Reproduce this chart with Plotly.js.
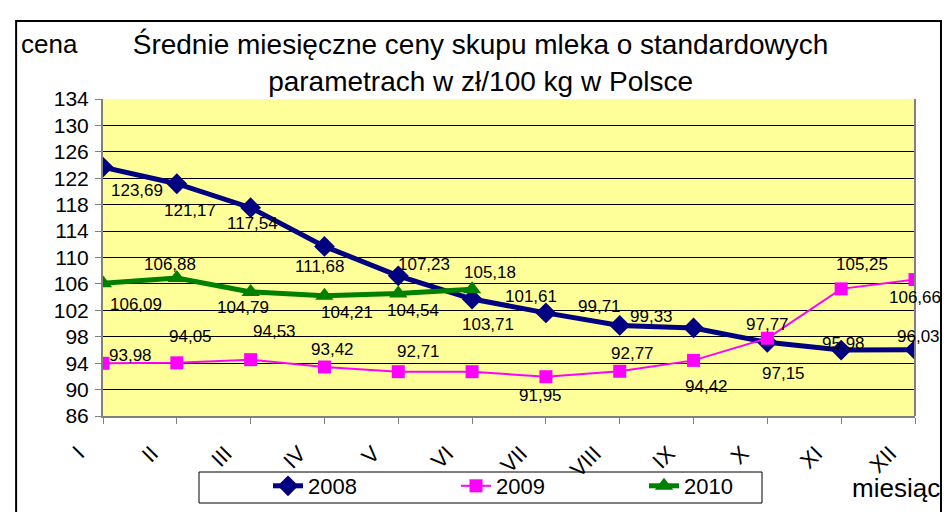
<!DOCTYPE html>
<html>
<head>
<meta charset="utf-8">
<script src="https://cdn.plot.ly/plotly-3.0.1.min.js"></script>
<style>html,body{margin:0;padding:0;background:#fff;}#chart{width:947px;height:512px;}</style>
</head>
<body>
<div id="chart"></div>
<script>
var months = ["I","II","III","IV","V","VI","VII","VIII","IX","X","XI","XII"];
var yTicks = [86,90,94,98,102,106,110,114,118,122,126,130,134];
var y2008 = [123.69,121.17,117.54,111.68,107.23,103.71,101.61,99.71,99.33,97.15,95.98,96.03];
var y2009 = [93.98,94.05,94.53,93.42,92.71,92.71,91.95,92.77,94.42,97.77,105.25,106.66];
var y2010 = [106.09,106.88,104.79,104.21,104.54,105.18];
var hide2009 = [5]; // this label is not shown in the original

// label placement (pixel offsets from each point: [dx, dy], dy downwards)
var off2008 = [[34,23],[13,27],[2,16],[-5,20],[26,-11],[16,25],[-15,-16],[-20,-19],[-42,-11],[16,31],[2,-7],[3,-13]];
var off2009 = [[27,-8],[14,-26],[24,-28],[8,-18],[20,-20],[0,0],[-5,19],[13,-18],[13,26],[0,-14],[21,-24],[0,18]];
var off2010 = [[33,21],[-7,-14],[-8,16],[23,17],[15,17],[18,-17]];

function fmt(v){ return v.toFixed(2).replace('.', ','); }
var FONT = "Liberation Sans, Arial, sans-serif";
var labelFont = {family:FONT, size:17, color:"#000"};

var traces = [
  {x: months, y: y2008, name:"2008", type:"scatter", mode:"lines+markers",
   line:{color:"#000080", width:5}, marker:{symbol:"diamond", size:16, color:"#000080"}},
  {x: months, y: y2009, name:"2009", type:"scatter", mode:"lines+markers",
   line:{color:"#FF00FF", width:2}, marker:{symbol:"square", size:13, color:"#FF00FF"}},
  {x: months.slice(0, y2010.length), y: y2010, name:"2010", type:"scatter", mode:"lines+markers",
   line:{color:"#008000", width:5}, marker:{symbol:"triangle-up", size:16, color:"#008000"}}
];

var annotations = [];
function addLabels(vals, offs, hide){
  vals.forEach(function(v, i){
    if (hide && hide.indexOf(i) >= 0) return;
    annotations.push({x: months[i], y: v, xref:"x", yref:"y", text: fmt(v), showarrow:false,
      xshift: offs[i][0], yshift: -offs[i][1], font: labelFont, xanchor:"center", yanchor:"middle"});
  });
}
addLabels(y2008, off2008);
addLabels(y2009, off2009, hide2009);
addLabels(y2010, off2010);

annotations.push({text:"cena", xref:"paper", yref:"paper", x:-0.1035, y:(416-44)/317, xanchor:"left", yanchor:"middle", showarrow:false, font:{size:26}});
annotations.push({text:"miesiąc", xref:"paper", yref:"paper", x:(850-103)/812, y:(416-488)/317, xanchor:"left", yanchor:"middle", showarrow:false, font:{size:26}});

var layout = {
  width:947, height:512,
  margin:{l:103, r:32, t:99, b:96, autoexpand:false},
  paper_bgcolor:"#ffffff", plot_bgcolor:"#FFFF99",
  font:{family:FONT, color:"#000"},
  showlegend:true,
  legend:{orientation:"h", x:(268-103)/812, xanchor:"left", y:(416-486)/317, yanchor:"middle",
          font:{size:22}, borderwidth:0, bgcolor:"rgba(0,0,0,0)",
          entrywidth:143, entrywidthmode:"pixels", traceorder:"normal"},
  title:{text:"Średnie miesięczne ceny skupu mleka o standardowych<br>parametrach w zł/100 kg w Polsce",
         x:0.465, xref:"paper", xanchor:"center", y:0.894, yref:"container", yanchor:"top",
         font:{size:28, color:"#000"}},
  xaxis:{type:"category", range:[0,11], tickangle:-45, ticks:"outside", ticklen:6, tickcolor:"#808080",
         showline:true, linecolor:"#808080", linewidth:2, showgrid:false, zeroline:false, automargin:false,
         tickfont:{size:22}, ticklabelstandoff:8, ticklabelshift:-25, fixedrange:true},
  yaxis:{range:[86,134], tickvals:yTicks, ticks:"outside", ticklen:6, tickcolor:"#808080",
         showline:true, linecolor:"#808080", linewidth:2, showgrid:true, gridcolor:"#000", gridwidth:1,
         zeroline:false, automargin:false, tickfont:{size:21}, ticklabelstandoff:2, fixedrange:true},
  annotations: annotations,
  shapes:[
    {type:"rect", xref:"paper", yref:"paper", x0:-0.107, x1:1.032, y0:-0.35, y1:1.246, line:{color:"#000", width:2}, layer:"below"},
    {type:"rect", xref:"paper", yref:"paper", x0:(199-103)/812, x1:(762-103)/812, y0:(416-503)/317, y1:(416-472)/317, line:{color:"#000", width:1}, fillcolor:"#fff", layer:"below"},
    {type:"line", xref:"paper", yref:"paper", x0:1, x1:1, y0:0, y1:1, line:{color:"#808080", width:2}}
  ]
};

Plotly.newPlot("chart", traces, layout, {displayModeBar:false, staticPlot:true});
</script>
</body>
</html>
